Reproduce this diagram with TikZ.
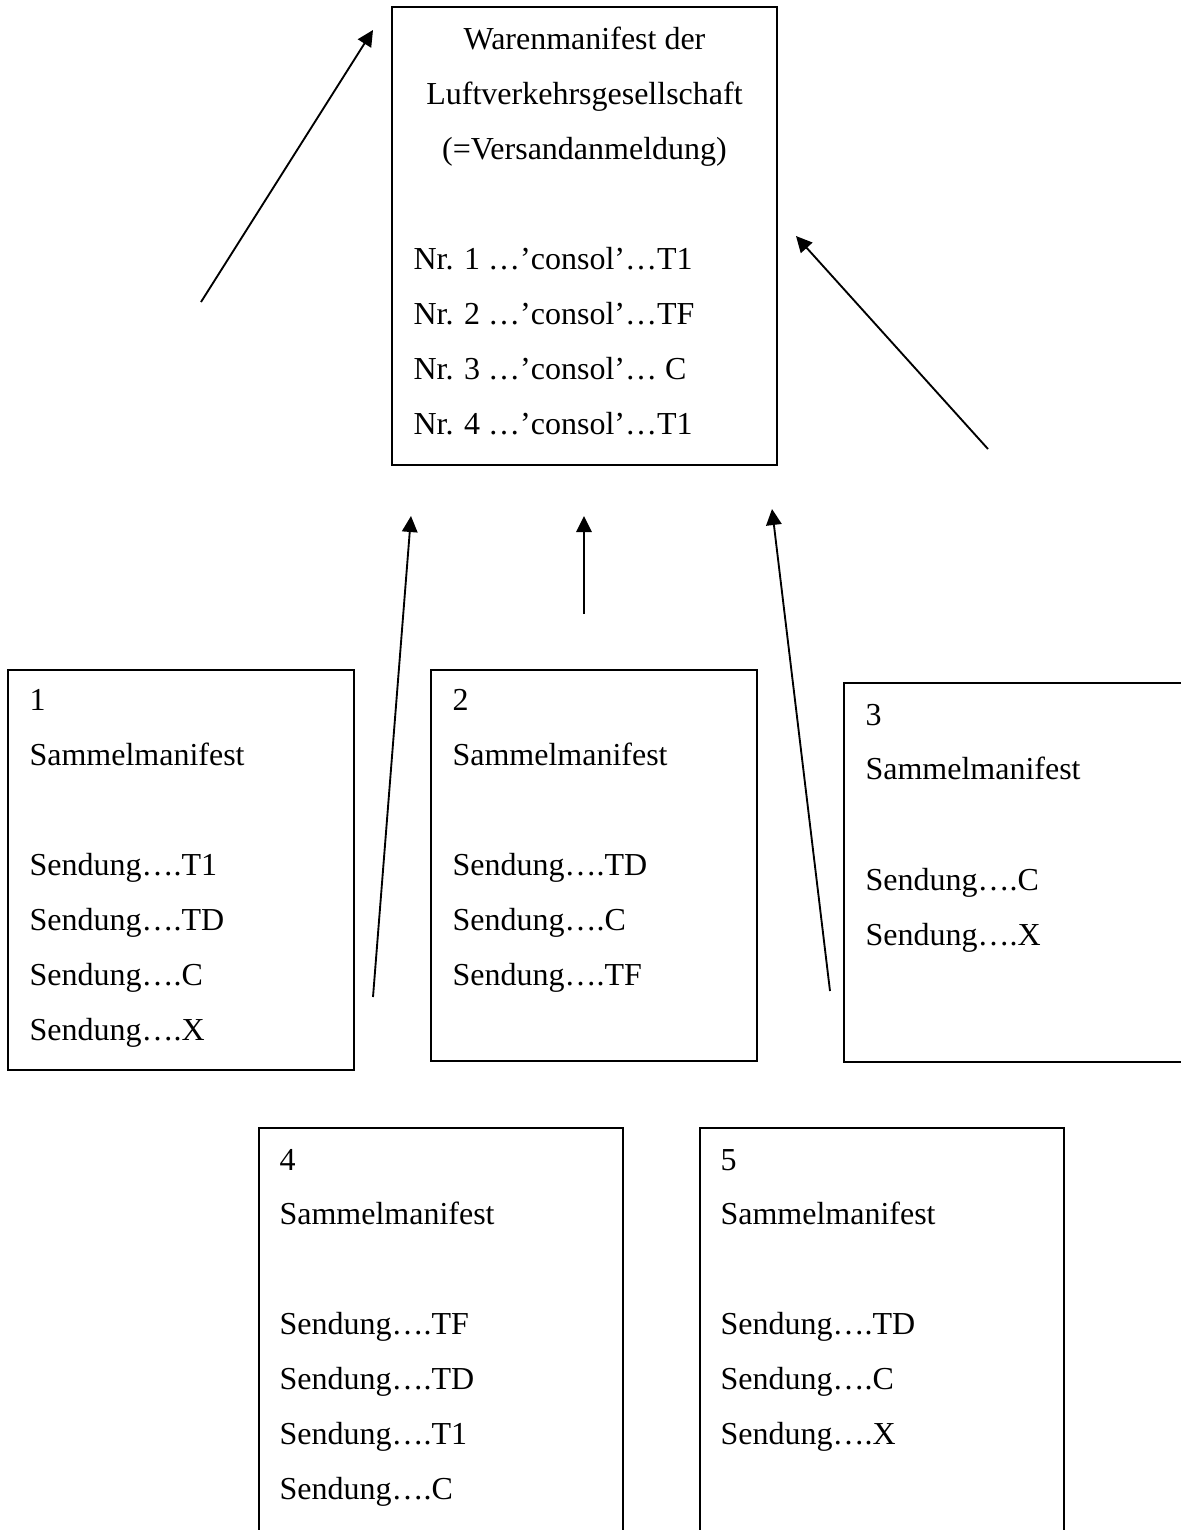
\documentclass[tikz,border=0pt]{standalone}
\usepackage{fontspec}
\setmainfont{Liberation Serif}
\usetikzlibrary{arrows.meta, fit}

\tikzset{
  box/.style={draw, line width=0.6pt, inner sep=0pt},
  txt/.style={anchor=base west, inner sep=0pt, yshift=-0.75pt, font=\fontsize{12pt}{14pt}\selectfont},
  up/.style={-{Triangle[length=6pt,width=5.8pt]}, line width=0.7pt},
}

\begin{document}
\begin{tikzpicture}[x=0.375pt, y=-0.375pt]
        \clip (0,0) rectangle (1181,1530);

        % corners of the boxes
        \coordinate (W1) at (392,7);
        \coordinate (W2) at (777,465);
        \coordinate (S1a) at (8,670);
        \coordinate (S1b) at (354,1070);
        \coordinate (S2a) at (431,670);
        \coordinate (S2b) at (757,1061);
        \coordinate (S3a) at (844,683);
        \coordinate (S3b) at (1190,1062);
        \coordinate (S4a) at (259,1128);
        \coordinate (S4b) at (623,1560);
        \coordinate (S5a) at (700,1128);
        \coordinate (S5b) at (1064,1560);

        \node[box, fit=(W1)(W2)] (waren) {};
        \node[box, fit=(S1a)(S1b)] (samm1) {};
        \node[box, fit=(S2a)(S2b)] (samm2) {};
        \node[box, fit=(S3a)(S3b)] (samm3) {};
        \node[box, fit=(S4a)(S4b)] (samm4) {};
        \node[box, fit=(S5a)(S5b)] (samm5) {};

        % Warenmanifest
        \node[txt, anchor=base] (w-1) at (584.5,47) {Warenmanifest der};
        \node[txt, anchor=base] (w-2) at (584.5,102) {Luftverkehrsgesellschaft};
        \node[txt, anchor=base] (w-3) at (584.5,157) {(=Versandanmeldung)};
        \node[txt] (w-nr1) at (413,267) {Nr. 1 …’consol’…T1};
        \node[txt] (w-nr2) at (413,322) {Nr. 2 …’consol’…TF};
        \node[txt] (w-nr3) at (413,377) {Nr. 3 …’consol’… C};
        \node[txt] (w-nr4) at (413,432) {Nr. 4 …’consol’…T1};

        % Sammelmanifest 1
        \node[txt] (s1-n) at (29,708) {1};
        \node[txt] (s1-t) at (29,763) {Sammelmanifest};
        \node[txt] (s1-a) at (29,873) {Sendung….T1};
        \node[txt] (s1-b) at (29,928) {Sendung….TD};
        \node[txt] (s1-c) at (29,983) {Sendung….C};
        \node[txt] (s1-d) at (29,1038) {Sendung….X};

        % Sammelmanifest 2
        \node[txt] (s2-n) at (452,708) {2};
        \node[txt] (s2-t) at (452,763) {Sammelmanifest};
        \node[txt] (s2-a) at (452,873) {Sendung….TD};
        \node[txt] (s2-b) at (452,928) {Sendung….C};
        \node[txt] (s2-c) at (452,983) {Sendung….TF};

        % Sammelmanifest 3
        \node[txt] (s3-n) at (865,723) {3};
        \node[txt] (s3-t) at (865,777) {Sammelmanifest};
        \node[txt] (s3-a) at (865,888) {Sendung….C};
        \node[txt] (s3-b) at (865,943) {Sendung….X};

        % Sammelmanifest 4
        \node[txt] (s4-n) at (279,1168) {4};
        \node[txt] (s4-t) at (279,1222) {Sammelmanifest};
        \node[txt] (s4-a) at (279,1332) {Sendung….TF};
        \node[txt] (s4-b) at (279,1387) {Sendung….TD};
        \node[txt] (s4-c) at (279,1442) {Sendung….T1};
        \node[txt] (s4-d) at (279,1497) {Sendung….C};

        % Sammelmanifest 5
        \node[txt] (s5-n) at (720,1168) {5};
        \node[txt] (s5-t) at (720,1222) {Sammelmanifest};
        \node[txt] (s5-a) at (720,1332) {Sendung….TD};
        \node[txt] (s5-b) at (720,1387) {Sendung….C};
        \node[txt] (s5-c) at (720,1442) {Sendung….X};

        % arrows
        \coordinate (A1) at (201,302);
        \coordinate (A1t) at (373,30);
        \coordinate (A2) at (988,449);
        \coordinate (A2t) at (796,236);
        \coordinate (A3) at (373,997);
        \coordinate (A3t) at (411,516);
        \coordinate (A4) at (584,614);
        \coordinate (A4t) at (584,516);
        \coordinate (A5) at (830,991);
        \coordinate (A5t) at (772,509);

        \draw[up] (A1) -- (A1t);
        \draw[up] (A2) -- (A2t);
        \draw[up] (A3) -- (A3t);
        \draw[up] (A4) -- (A4t);
        \draw[up] (A5) -- (A5t);
    \end{tikzpicture}
\end{document}
